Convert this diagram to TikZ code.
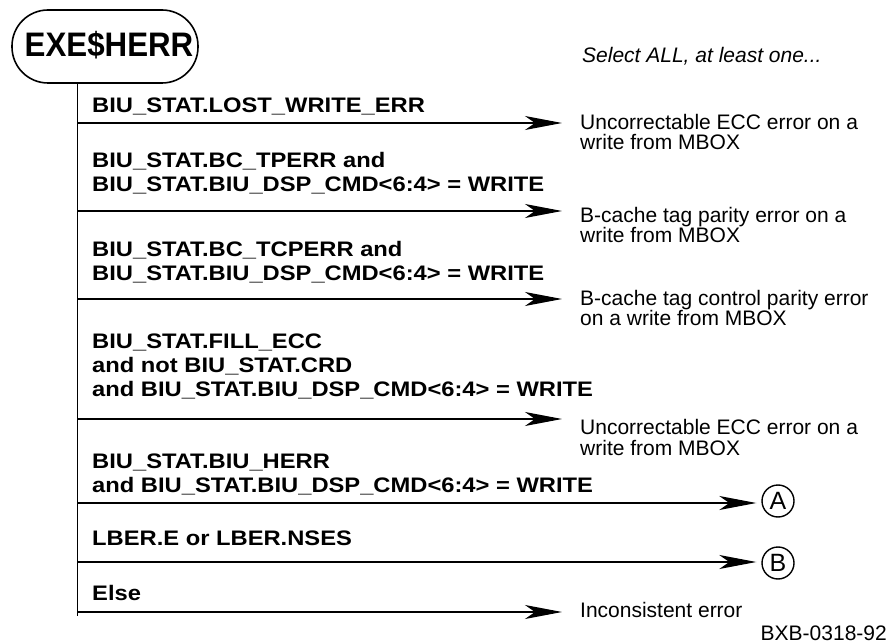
\documentclass[tikz,border=0pt]{standalone}
\usepackage{fontspec}
\setmainfont{Liberation Sans}
\newfontfamily\rowfont[FakeStretch=1.13]{Liberation Sans}
\newfontfamily\titlefont[FakeStretch=0.92]{Liberation Sans}
\usetikzlibrary{arrows.meta}
\begin{document}
\begin{tikzpicture}[x=1pt,y=-1pt,
  cond/.style={anchor=base west, inner sep=0, align=left, font=\rowfont\bfseries\fontsize{21}{24}\selectfont},
  res/.style={anchor=base west, inner sep=0, align=left, font=\fontsize{21}{20.5}\selectfont},
  flow/.style={line width=1.2pt, -{Stealth[length=37pt,width=14pt,inset=10pt]}},
  trunk/.style={line width=1.3pt},
  conn/.style={draw, circle, line width=1.4pt, inner sep=0, minimum size=32pt, font=\fontsize{25}{25}\selectfont}]
\useasboundingbox (0,0) rectangle (889,644);

% start terminal
\node[draw, line width=1.6pt, rounded corners=36pt, minimum width=186pt, minimum height=73pt, inner sep=0] (start) at (105,46.5) {};
\node[anchor=base, inner sep=0, font=\titlefont\bfseries\fontsize{34}{34}\selectfont] (title) at (109,57) {EXE\$HERR};

\node[anchor=base west, inner sep=0, font=\itshape\fontsize{21}{21}\selectfont] (sel) at (582,63) {Select ALL, at least one...};

% trunk
\coordinate (v0) at (77.5,83);
\coordinate (v1) at (77.5,616);
\draw[trunk] (v0) -- (v1);

% conditions (anchor = baseline of last line)
\node[cond] (c1) at (92,113) {BIU\_STAT.LOST\_WRITE\_ERR};
\node[cond] (c2) at (92,192) {BIU\_STAT.BC\_TPERR and\\BIU\_STAT.BIU\_DSP\_CMD<6:4> = WRITE};
\node[cond] (c3) at (92,281) {BIU\_STAT.BC\_TCPERR and\\BIU\_STAT.BIU\_DSP\_CMD<6:4> = WRITE};
\node[cond] (c4) at (92,396) {BIU\_STAT.FILL\_ECC\\and not BIU\_STAT.CRD\\and BIU\_STAT.BIU\_DSP\_CMD<6:4> = WRITE};
\node[cond] (c5) at (92,492) {BIU\_STAT.BIU\_HERR\\and BIU\_STAT.BIU\_DSP\_CMD<6:4> = WRITE};
\node[cond] (c6) at (92,545) {LBER.E or LBER.NSES};
\node[cond] (c7) at (92,600) {Else};

% results (anchor = baseline of last line)
\node[res] (r1) at (580,150) {Uncorrectable ECC error on a\\write from MBOX};
\node[res] (r2) at (580,243) {B-cache tag parity error on a\\write from MBOX};
\node[res] (r3) at (580,326) {B-cache tag control parity error\\on a write from MBOX};
\node[res] (r4) at (580,455) {Uncorrectable ECC error on a\\write from MBOX};
\node[res] (r7) at (580,617) {Inconsistent error};
\node[conn] (A) at (778,501) {A};
\node[conn] (B) at (778,563) {B};

% branch arrows
\coordinate (s1) at (77.5,123);  \coordinate (t1) at (562,123);
\coordinate (s2) at (77.5,211);  \coordinate (t2) at (562,211);
\coordinate (s3) at (77.5,299);  \coordinate (t3) at (562,299);
\coordinate (s4) at (77.5,419);  \coordinate (t4) at (562,419);
\coordinate (s5) at (77.5,503);
\coordinate (s6) at (77.5,562);
\coordinate (s7) at (77.5,612);  \coordinate (t7) at (562,612);
\draw[flow] (s1) -- (t1);
\draw[flow] (s2) -- (t2);
\draw[flow] (s3) -- (t3);
\draw[flow] (s4) -- (t4);
\draw[flow, shorten >=5pt] (s5) -- (A.west |- s5);
\draw[flow, shorten >=5pt] (s6) -- (B.west |- s6);
\draw[flow] (s7) -- (t7);

\node[anchor=base east, inner sep=0, font=\fontsize{21}{21}\selectfont] (fig) at (887,640) {BXB-0318-92};
\end{tikzpicture}
\end{document}
